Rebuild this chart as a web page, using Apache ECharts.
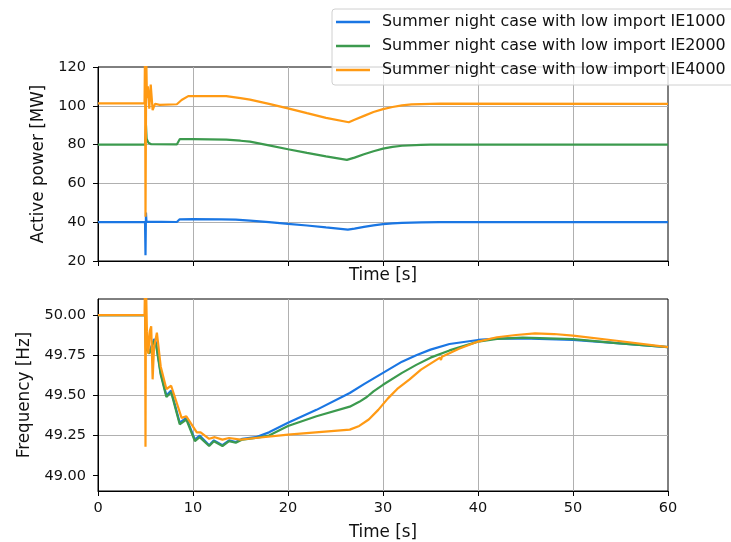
<!DOCTYPE html>
<html>
<head>
<meta charset="utf-8">
<script src="https://cdn.jsdelivr.net/npm/echarts@6/dist/echarts.min.js"></script>
<style>
html,body{margin:0;padding:0;background:#fff;}
#chart{width:731px;height:542px;}
</style>
</head>
<body>
<div id="chart"></div>
<script>
// ---- Data (time [s], value) ----
const seriesNames = [
  'Summer night case with low import IE1000',
  'Summer night case with low import IE2000',
  'Summer night case with low import IE4000'
];
const xTicks = [0, 10, 20, 30, 40, 50, 60];
const powerTicks = [20, 40, 60, 80, 100, 120];
const freqTicks = [49.0, 49.25, 49.5, 49.75, 50.0];

const powerIE1000 = [[0,40],[4.95,40],[5.0,23],[5.05,45],[5.1,40.3],[5.3,40.1],[8.3,40.1],[8.6,41.5],[10,41.6],[13,41.5],[14.5,41.3],[16,40.8],[18,40.0],[20,39.1],[22,38.3],[24,37.3],[26.3,36.2],[27,36.7],[28,37.6],[29,38.4],[30,39.0],[31,39.4],[32,39.7],[34,39.9],[36,40],[60,40]];
const powerIE2000 = [[0,80],[4.95,80],[5.0,80.5],[5.05,90],[5.12,83],[5.3,81],[5.6,80.2],[8.3,80.1],[8.6,82.8],[10,82.8],[13.5,82.6],[15,82.0],[16,81.5],[18,79.6],[20,77.6],[22,75.7],[24,73.9],[26.2,72.1],[27,73.3],[28,75.0],[29,76.6],[30,77.9],[31,78.8],[32,79.4],[34,79.9],[35,80],[35.1,80.4],[35.2,80],[60,80]];
const powerIE4000 = [[0,101.2],[4.9,101.2],[4.95,130],[5.0,42.8],[5.08,125],[5.15,104],[5.25,110],[5.4,98.5],[5.55,111],[5.75,97.8],[6.0,101],[6.5,100.5],[8.3,100.8],[8.8,103],[9.5,105],[13.5,105],[15,104],[16,103.2],[18,101],[20,98.7],[22,96.2],[24,93.8],[26.4,91.5],[27,92.8],[28,94.8],[29,96.8],[30,98.3],[31,99.4],[32,100.2],[33,100.7],[35,101],[36,101.1],[36.1,101.8],[36.2,101.1],[60,101]];

const freqIE1000 = [[0,50],[4.95,50],[5.05,49.8],[5.4,49.77],[5.9,49.85],[6.1,49.83],[6.6,49.64],[7.2,49.5],[7.7,49.53],[8.6,49.33],[9.3,49.36],[10.2,49.225],[10.7,49.25],[11.7,49.19],[12.2,49.22],[13.1,49.19],[13.8,49.22],[14.5,49.21],[15.2,49.23],[16.6,49.24],[18,49.27],[20,49.33],[23,49.41],[26.5,49.515],[28,49.57],[30,49.64],[32,49.71],[33.5,49.75],[35,49.785],[37,49.82],[40,49.845],[42,49.853],[44.7,49.855],[50,49.845],[54.6,49.825],[60,49.8]];
const freqIE2000 = [[0,50],[4.95,50],[5.05,49.79],[5.4,49.76],[5.9,49.84],[6.1,49.82],[6.6,49.63],[7.2,49.49],[7.7,49.52],[8.6,49.32],[9.3,49.35],[10.2,49.215],[10.7,49.24],[11.7,49.185],[12.2,49.215],[13.1,49.185],[13.8,49.215],[14.5,49.205],[15.2,49.225],[16.6,49.235],[18,49.25],[20,49.31],[23,49.37],[26.5,49.43],[27.5,49.46],[28.3,49.49],[29,49.525],[30,49.566],[32,49.64],[33.5,49.69],[35,49.735],[37,49.78],[40,49.835],[42,49.852],[44.7,49.86],[50,49.85],[54.6,49.825],[60,49.8]];
const freqIE4000 = [[0,50],[4.9,50],[4.95,50.2],[5.0,49.18],[5.05,50.2],[5.15,49.9],[5.3,49.76],[5.45,49.9],[5.6,49.93],[5.75,49.6],[5.9,49.8],[6.2,49.89],[6.6,49.68],[7.2,49.54],[7.7,49.56],[8.8,49.36],[9.3,49.37],[10.4,49.27],[10.8,49.27],[11.7,49.23],[12.3,49.24],[13.1,49.225],[13.8,49.235],[15,49.225],[16.6,49.235],[20,49.256],[26.5,49.287],[27.5,49.31],[28.5,49.35],[29.5,49.41],[30.5,49.48],[31.5,49.54],[32.8,49.6],[34,49.66],[36,49.735],[36.1,49.72],[36.2,49.74],[38,49.79],[40,49.835],[42,49.862],[44,49.876],[46,49.886],[48,49.882],[50,49.872],[54.6,49.84],[60,49.8]];

const colors = ['#1a76e3', '#3c9a4e', '#ff9a14'];

// ---- Chart ----
const FONT = 'DejaVu Sans';
const TXT = '#111';
const chart = echarts.init(document.getElementById('chart'), null, {renderer: 'canvas'});

function xAxisCfg(gridIndex, showLabels, nameGap) {
  return {
    type: 'value', gridIndex, min: 0, max: 60, interval: 10,
    name: 'Time [s]', nameLocation: 'middle', nameGap,
    nameTextStyle: {fontFamily: FONT, fontSize: 16.8, color: TXT},
    axisLine: {show: true, onZero: false, lineStyle: {color: '#000', width: 1}},
    axisTick: {show: true, length: 5, lineStyle: {color: '#000', width: 1}},
    axisLabel: {show: showLabels, margin: 10, fontFamily: FONT, fontSize: 14.5, color: TXT},
    splitLine: {show: true, showMinLine: false, showMaxLine: false, lineStyle: {color: '#b0b0b0', width: 1}}
  };
}

const option = {
  animation: false,
  backgroundColor: '#fff',
  color: colors,
  grid: [
    {left: 98, right: 63, top: 67, height: 194, show: true, borderColor: '#000', borderWidth: 1, backgroundColor: 'transparent'},
    {left: 98, right: 63, top: 299, height: 192, show: true, borderColor: '#000', borderWidth: 1, backgroundColor: 'transparent'}
  ],
  legend: {
    orient: 'vertical', left: 332, top: 9,
    padding: [4, 10, 6, 4], itemGap: 6,
    itemWidth: 34, itemHeight: 2.5, icon: 'rect',
    backgroundColor: 'rgba(255,255,255,0.8)',
    borderColor: '#d0d0d0', borderWidth: 1, borderRadius: 3,
    textStyle: {fontFamily: FONT, fontSize: 15.9, color: TXT, lineHeight: 18, padding: [0, 0, 0, 7]},
    data: seriesNames,
    selectedMode: false,
    z: 20
  },
  xAxis: [xAxisCfg(0, false, 6), xAxisCfg(1, true, 33)],
  yAxis: [
    {
      type: 'value', gridIndex: 0, min: 20, max: 120, interval: 20,
      name: 'Active power [MW]', nameLocation: 'middle', nameGap: 48,
      nameTextStyle: {fontFamily: FONT, fontSize: 16.8, color: TXT},
      axisLine: {show: true, lineStyle: {color: '#000', width: 1}},
      axisTick: {show: true, length: 5, lineStyle: {color: '#000', width: 1}},
      axisLabel: {margin: 12, fontFamily: FONT, fontSize: 14.5, color: TXT},
      splitLine: {show: true, showMinLine: false, showMaxLine: false, lineStyle: {color: '#b0b0b0', width: 1}}
    },
    {
      type: 'value', gridIndex: 1, min: 48.905, max: 50.1,
      name: 'Frequency [Hz]', nameLocation: 'middle', nameGap: 63,
      nameTextStyle: {fontFamily: FONT, fontSize: 16.8, color: TXT},
      axisLine: {show: true, lineStyle: {color: '#000', width: 1}},
      axisTick: {show: true, length: 5, customValues: freqTicks, lineStyle: {color: '#000', width: 1}},
      axisLabel: {margin: 12, customValues: freqTicks, fontFamily: FONT, fontSize: 14.5, color: TXT,
        formatter: v => Number(v).toFixed(2)},
      splitLine: {show: true, showMinLine: false, showMaxLine: false, lineStyle: {color: '#b0b0b0', width: 1}}
    }
  ],
  series: [
    {name: seriesNames[0], type: 'line', xAxisIndex: 0, yAxisIndex: 0, data: powerIE1000},
    {name: seriesNames[1], type: 'line', xAxisIndex: 0, yAxisIndex: 0, data: powerIE2000},
    {name: seriesNames[2], type: 'line', xAxisIndex: 0, yAxisIndex: 0, data: powerIE4000},
    {name: seriesNames[0], type: 'line', xAxisIndex: 1, yAxisIndex: 1, data: freqIE1000},
    {name: seriesNames[1], type: 'line', xAxisIndex: 1, yAxisIndex: 1, data: freqIE2000},
    {name: seriesNames[2], type: 'line', xAxisIndex: 1, yAxisIndex: 1, data: freqIE4000}
  ].map((s, i) => Object.assign(s, {
    symbol: 'none', showSymbol: false, clip: true, smooth: false,
    lineStyle: {width: 2.2, color: colors[i % 3]},
    itemStyle: {color: colors[i % 3]},
    z: 2 + (i % 3)
  }))
};
chart.setOption(option);
</script>
</body>
</html>
